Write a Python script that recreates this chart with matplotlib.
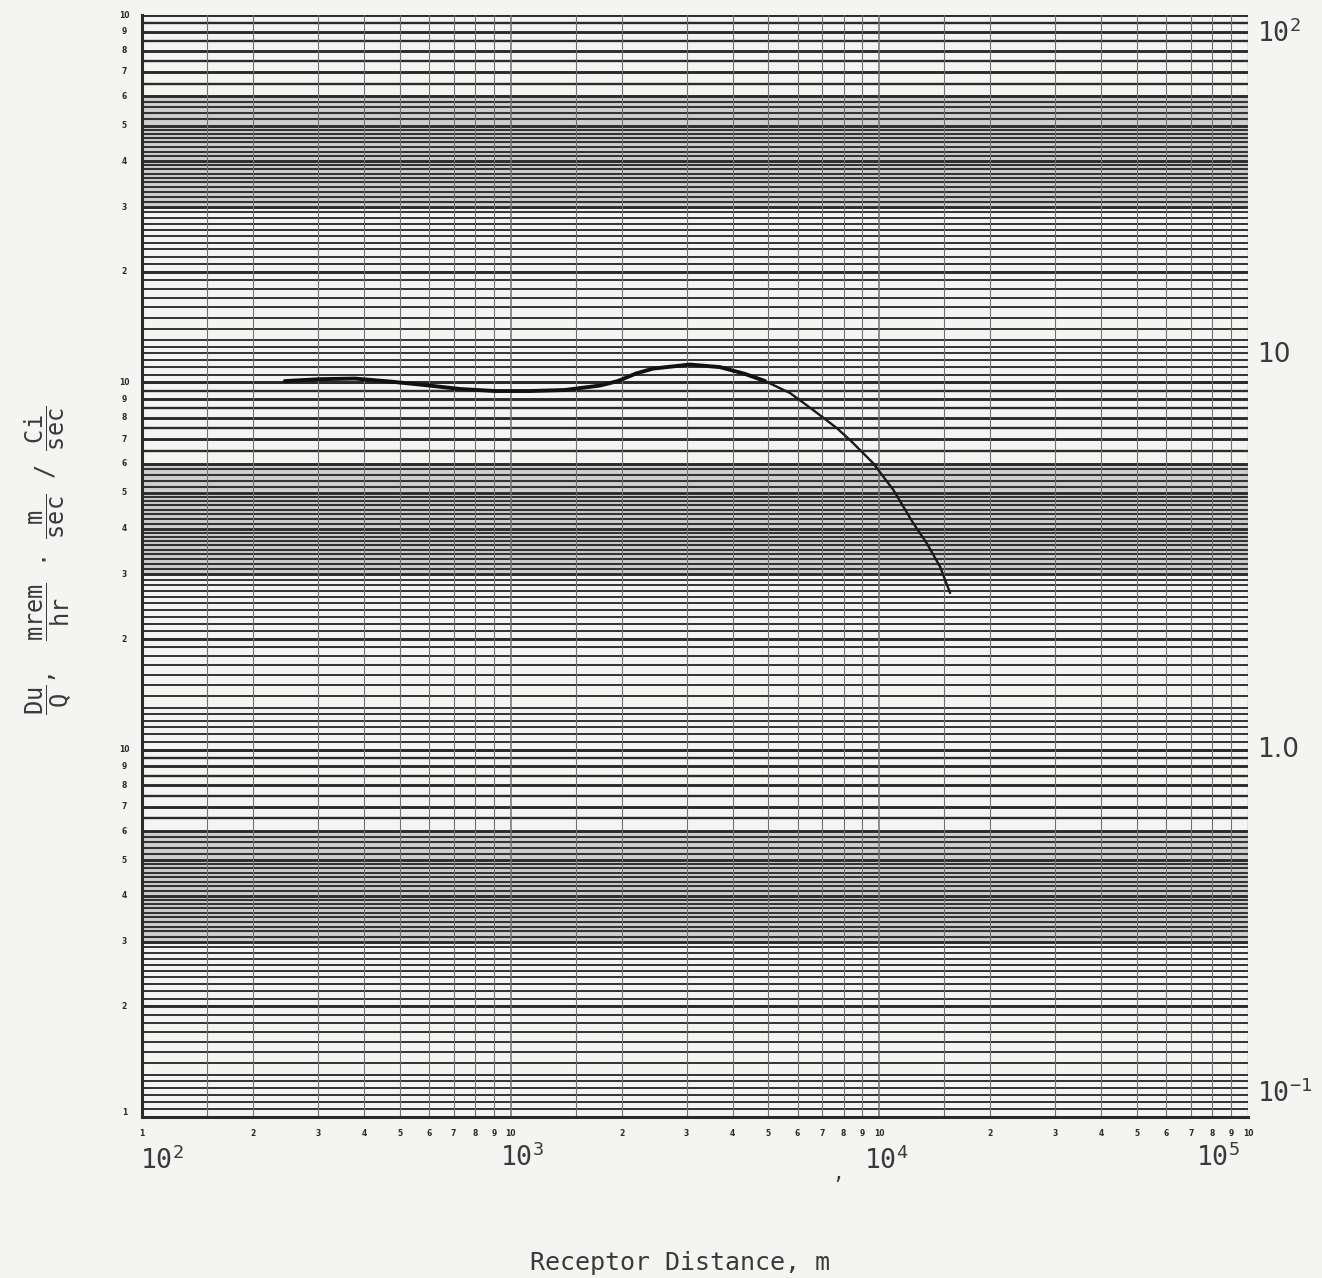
import numpy as np
import matplotlib
matplotlib.use("Agg")
import matplotlib.pyplot as plt

# curve
dist_m = [244, 304, 378, 471, 586, 729, 907, 1127, 1403, 1746, 1954, 2188, 2433,
          3064, 3696, 4324, 4900, 5727, 6611, 7663, 8320, 9630, 10920, 12370,
          13440, 14610, 15560]
dose = [10.08, 10.2, 10.24, 10.05, 9.83, 9.59, 9.47, 9.47, 9.53, 9.80, 10.08,
        10.57, 10.9, 11.18, 11.0, 10.54, 10.08, 9.35, 8.41, 7.51, 6.97, 6.02,
        5.09, 4.13, 3.65, 3.15, 2.67]
split_at = 16  # pen gets thinner past ~5 km

x_decades = [1e2, 1e3, 1e4]
y_decades = [0.1, 1.0, 10.0]
x_big_labels = [r'$10^2$', r'$10^3$', r'$10^4$', r'$10^5$']
right_labels = [(89, r'$10^2$'), (11.9, '10'), (1.0, '1.0'), (0.116, r'$10^{-1}$')]
small_nums = ['1', '2', '3', '4', '5', '6', '7', '8', '9', '10']

plt.rcParams['mathtext.fontset'] = 'custom'
plt.rcParams['mathtext.rm'] = 'DejaVu Sans Mono'
plt.rcParams['mathtext.it'] = 'DejaVu Sans Mono'
plt.rcParams['mathtext.bf'] = 'DejaVu Sans Mono:bold'

paper = '#f4f4f2'
ink = '#2b2b2b'
text_col = '#3a3a3a'

fig = plt.figure(figsize=(13.22, 12.78), dpi=100, facecolor=paper)
ax = fig.add_axes([142 / 1322, 1 - 1117 / 1278, 1106 / 1322, 1102 / 1278])
ax.set_facecolor(paper)
ax.set_xscale('log')
ax.set_yscale('log')
ax.set_xlim(1e2, 1e5)
ax.set_ylim(0.1, 100)
ax.tick_params(which='both', length=0, labelbottom=False, labelleft=False)
for side in ['top', 'right']:
    ax.spines[side].set_visible(False)
for side in ['left', 'bottom']:
    ax.spines[side].set_linewidth(2.2)
    ax.spines[side].set_color(ink)

# graph paper: horizontal rulings (spacing kept roughly even inside the 3-6 band)
band = list(np.arange(3.1, 4.0, 0.1)) + list(np.arange(4.125, 5.0, 0.125)) + \
    list(np.arange(5.2, 6.0, 0.2))
for d in y_decades:
    ax.axhspan(3 * d, 6 * d, color='#cfcfcf', lw=0, zorder=0.5)
    for k in range(1, 11):
        ax.axhline(k * d, color=ink, lw=2.1, zorder=1)
    for v in list(np.arange(1.1, 3.0, 0.1)) + [1.05, 1.15, 1.25]:
        ax.axhline(v * d, color=ink, lw=1.35, zorder=1)
    for v in band:
        ax.axhline(v * d, color='#333333', lw=1.5, zorder=1)
    for v in [6.5, 7.5, 8.5, 9.5]:
        ax.axhline(v * d, color=ink, lw=1.7, zorder=1)

# vertical rulings
for d in x_decades:
    for k in [1, 1.5, 2, 3, 4, 5, 6, 7, 8, 9]:
        ax.axvline(k * d, color='#707070', lw=0.8 if k != 1 else 1.1, zorder=1)
ax.axvline(1e5, color='#707070', lw=0.9, zorder=1)

# the curve
ax.plot(dist_m[:split_at + 1], dose[:split_at + 1], color='#111111', lw=2.8,
        solid_capstyle='round', zorder=3)
ax.plot(dist_m[split_at:], dose[split_at:], color='#1a1a1a', lw=1.7,
        solid_capstyle='round', zorder=3)

# tiny printed numbers of the sheet
ytr = ax.get_yaxis_transform()
xtr = ax.get_xaxis_transform()
for d in y_decades:
    for k in range(2, 11):
        ax.text(-0.016, k * d, small_nums[k - 1], transform=ytr, ha='center',
                va='center', fontsize=5.5, fontweight='bold', color=ink)
ax.text(-0.016, 0.1, '1', transform=ytr, ha='center', va='bottom',
        fontsize=5.5, fontweight='bold', color=ink)
for d in x_decades:
    for k in range(1, 11):
        if k == 1 and d != 1e2:
            continue
        ax.text(k * d, -0.015, small_nums[k - 1], transform=xtr, ha='center',
                va='center', fontsize=5.5, fontweight='bold', color=ink)

# hand-lettered decade labels
big_x = [1.13e2, 1.07e3, 1.04e4, 8.3e4]
big_y = [-0.04, -0.037, -0.04, -0.037]
for bx, by, lab in zip(big_x, big_y, x_big_labels):
    ax.text(bx, by, lab, transform=xtr, ha='center', va='center',
            fontsize=19, color=text_col)
ax.text(7.7e3, -0.05, ',', transform=xtr, ha='center', va='center',
        fontsize=17, color=text_col)
for yv, lab in right_labels:
    ax.text(1.008, yv, lab, transform=ytr, ha='left', va='center',
            fontsize=19, color=text_col)

fig.text(680 / 1322, 1 - 1263 / 1278, 'Receptor Distance, m', ha='center',
         va='center', fontsize=18, family='DejaVu Sans Mono', color=text_col)
fig.text(48 / 1322, 1 - 560 / 1278,
         r'$\dfrac{\mathrm{Du}}{\mathrm{Q}}$,  $\dfrac{\mathrm{mrem}}{\mathrm{hr}}$ $\cdot$ '
         r'$\dfrac{\mathrm{m}}{\mathrm{sec}}$ / $\dfrac{\mathrm{Ci}}{\mathrm{sec}}$',
         rotation=90, ha='center', va='center', fontsize=17,
         family='DejaVu Sans Mono', color=text_col)

fig.savefig('out.png', dpi=100, facecolor=paper)
